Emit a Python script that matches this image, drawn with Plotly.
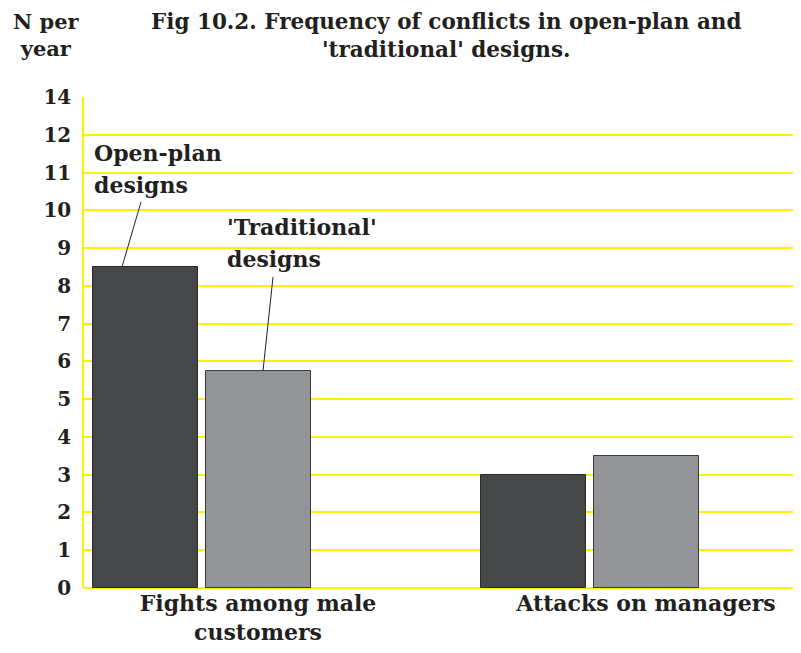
import plotly.graph_objects as go

categories = ["Fights among male<br>customers", "Attacks on managers"]
open_plan = [8.5, 3.0]
traditional = [5.75, 3.5]
y_tickvals = list(range(0, 14))
y_ticktext = ["0", "1", "2", "3", "4", "5", "6", "7", "8", "9", "10", "11", "12", "14"]

FONT = "DejaVu Serif"
TXT = "#231f20"
PX = 388.0  # pixels per category unit (layout calc)
BW = 105 / PX

# page has an 8px body margin; figure shifted accordingly
W, H = 793, 645
ML, MT, MB = 76, 89, 65
PH = H - MT - MB  # 491
PW = W - ML       # 717


def py(fy):
    return (H - MB - fy) / PH


def pxx(fx):
    return (fx - ML) / PW


def dx(ref_px):
    return (ref_px - 258) / PX


fig = go.Figure()
fig.add_trace(go.Bar(x=categories, y=open_plan, width=BW, offset=-(113 + 52.5) / PX,
                     marker=dict(color="#464749", line=dict(color="#2a2a2a", width=1)),
                     name="Open-plan designs", showlegend=False))
fig.add_trace(go.Bar(x=categories, y=traditional, width=BW, offset=-52.5 / PX,
                     marker=dict(color="#939497", line=dict(color="#3a3a3a", width=1)),
                     name="'Traditional' designs", showlegend=False))

# leader lines
fig.add_shape(type="line", xref="x", yref="y", x0=dx(122), y0=open_plan[0],
              x1=dx(141), y1=10.22, line=dict(color="#231f20", width=1))
fig.add_shape(type="line", xref="x", yref="y", x0=dx(263), y0=traditional[0],
              x1=dx(273), y1=8.23, line=dict(color="#231f20", width=1))

lab_font = dict(family=FONT, size=22, color=TXT, weight="bold")
for txt, x, y in [("Open-plan", dx(92), 11.52), ("designs", dx(92), 10.66),
                  ("'Traditional'", dx(225), 9.57), ("designs", dx(225), 8.72)]:
    fig.add_annotation(text=txt, xref="x", yref="y", x=x, y=y, xanchor="left",
                       yanchor="middle", showarrow=False, font=lab_font)

fig.add_annotation(text="N per<br>year", xref="paper", yref="paper", x=pxx(46 - 8), y=py(-1),
                   xanchor="center", yanchor="top", showarrow=False,
                   font=dict(family=FONT, size=21, color=TXT, weight="bold"))
fig.add_annotation(text="Fig 10.2. Frequency of conflicts in open-plan and<br>'traditional' designs.",
                   xref="paper", yref="paper", x=pxx(446 - 8), y=py(-1),
                   xanchor="center", yanchor="top", showarrow=False,
                   font=dict(family=FONT, size=21.5, color=TXT, weight="bold"))

fig.update_layout(
    width=W, height=H,
    margin=dict(l=ML, r=0, t=MT, b=MB),
    plot_bgcolor="white", paper_bgcolor="white",
    bargap=0,
    font=dict(family=FONT, color=TXT),
)
fig.update_xaxes(type="category", range=[-(258 - 84) / PX, 1 + (801 - 646) / PX],
                 showgrid=False, showline=False, zeroline=False, ticks="",
                 automargin=False,
                 tickfont=dict(family=FONT, size=22, color=TXT, weight="bold"))
fig.update_yaxes(range=[0, 13], tickvals=y_tickvals, ticktext=y_ticktext,
                 showgrid=True, gridcolor="#fff200", gridwidth=1.5,
                 zeroline=True, zerolinecolor="#fff200", zerolinewidth=1.5,
                 showline=True, linecolor="#fff200", linewidth=1.5,
                 ticks="", ticklabelstandoff=7, automargin=False,
                 tickfont=dict(family=FONT, size=20, color=TXT, weight="bold"))

fig.write_html("out.html")
